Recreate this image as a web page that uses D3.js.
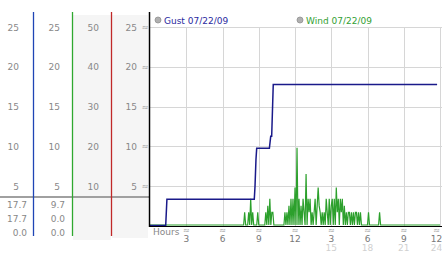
<!DOCTYPE html>
<html><head><meta charset="utf-8">
<script src="https://cdn.jsdelivr.net/npm/d3@7"></script>
<style>html,body{margin:0;padding:0;background:#fff}svg{display:block}text{font-family:"DejaVu Sans",Verdana,sans-serif}</style>
</head><body>
<script>
// ---- data ----
const legendLabels = ["Gust 07/22/09", "Wind 07/22/09"];
const yTicks = [5, 10, 15, 20, 25];
const yTicksDouble = [10, 20, 30, 40, 50];
const xTicks = [3, 6, 9, 12, 15, 18, 21, 24];
const xTickLabels = ["3", "6", "9", "12", "3", "6", "9", "12"];
const xTickLabels24 = ["", "", "", "", "15", "18", "21", "24"];
const gustStats = ["17.7", "17.7", "0.0"];
const windStats = ["9.7", "0.0", "0.0"];
// gust (hours, value)
const gustHours  = [0, 1.30, 1.40, 8.63, 8.69, 8.77, 8.83, 9.88, 9.99, 10.07, 10.15, 10.20, 23.76];
const gustValues = [0, 0,    3.3,  3.3,  4.9,  8.3,  9.7,  9.7,  11.2, 11.2,  15.2,  17.7,  17.7];
// wind: 5-minute readings from 07:40, zero before and after
const windStartHour = 7 + 40 / 60;
const windStepHours = 5 / 60;
const windValues = [
 0,0,1.6,0,0,0,1.6,0,3.3,0,
 1.6,0,0,0,0,1.6,0,0,0,0,
 0,0,0,1.6,0,2.4,0,3.3,0,1.6,
 1.6,0,0,0,0,0,0,0,0,0,
 0,0,1.6,0,1.6,0,2.4,0,3.3,0,
 3.3,0,4.7,0,9.7,0,3.3,0,2.4,0,
 3.3,1.6,0,6.4,0,3.3,1.6,3.3,0,1.6,
 0,1.6,3.3,0,2.4,4.7,2.4,1.6,0,1.6,
 0,1.6,0,3.3,1.6,0,3.3,0,2.4,3.3,
 0,3.3,0,4.7,1.6,3.3,0,3.3,1.6,3.3,
 0,2.4,0,1.6,0,1.6,1.6,0,1.6,0,
 1.6,0,1.6,1.6,0,1.6,0,1.6,0,0,
 0,0,0,0,0,1.6,0,0,0,0,
 0,0,0,0,0,0,1.6,0
];
const windEndHour = 24;

// ---- drawing ----
const W = 442, H = 253;
const svg = d3.select("body").append("svg").attr("width", W).attr("height", H);
const x = d3.scaleLinear().domain([0, 24]).range([150, 440]);
const y = d3.scaleLinear().domain([0, 25]).range([226, 27]);
const yD = d3.scaleLinear().domain([0, 50]).range([226, 27]);
const xl = d => Math.min(x(d), 436.5);

const blue = "#1a1a8a", green = "#2ca02c";

// left panel backgrounds
svg.append("rect").attr("x", 73).attr("y", 15).attr("width", 38).attr("height", 225).attr("fill", "#f5f5f5");
svg.append("rect").attr("x", 112).attr("y", 15).attr("width", 36).attr("height", 223).attr("fill", "#f5f5f5");

// left panel labels
const colDefs = [
  {x: 19, ticks: yTicks, s: y},
  {x: 60, ticks: yTicks, s: y},
  {x: 99, ticks: yTicksDouble, s: yD},
  {x: 137, ticks: yTicks, s: y}
];
colDefs.forEach(c => {
  svg.append("g").selectAll("text").data(c.ticks).join("text")
    .attr("x", c.x).attr("y", d => c.s(d) + 3.5)
    .attr("text-anchor", "end").attr("font-size", 9).attr("fill", "#888")
    .text(d => d);
});
// separator
svg.append("line").attr("x1", 0).attr("x2", 149).attr("y1", 197).attr("y2", 197)
  .attr("stroke", "#a0a0a0").attr("stroke-width", 2);
// stats
const statY = [208, 222, 236];
svg.append("g").selectAll("text").data(gustStats).join("text")
  .attr("x", 27).attr("y", (d, i) => statY[i]).attr("text-anchor", "end")
  .attr("font-size", 9).attr("fill", "#888").text(d => d);
svg.append("g").selectAll("text").data(windStats).join("text")
  .attr("x", 65).attr("y", (d, i) => statY[i]).attr("text-anchor", "end")
  .attr("font-size", 9).attr("fill", "#888").text(d => d);
// colored vertical lines
[[33.5, "#1f45b5"], [72.5, "#2fa82f"], [111.5, "#c02828"]].forEach(([lx, col]) => {
  svg.append("line").attr("x1", lx).attr("x2", lx).attr("y1", 12).attr("y2", 236)
    .attr("stroke", col).attr("stroke-width", 1.3);
});

// plot grid
const grid = svg.append("g");
grid.selectAll("line.h").data(yTicks).join("line").attr("class", "h")
  .attr("x1", 149).attr("x2", 442).attr("y1", d => Math.round(y(d)) + 0.5).attr("y2", d => Math.round(y(d)) + 0.5)
  .attr("stroke", "#d6d6d6");
grid.selectAll("line.v").data(xTicks).join("line").attr("class", "v")
  .attr("x1", d => Math.round(x(d)) + 0.5).attr("x2", d => Math.round(x(d)) + 0.5)
  .attr("y1", 27).attr("y2", 226).attr("stroke", "#d6d6d6");

// tick markers
svg.append("g").selectAll("text").data(yTicks).join("text")
  .attr("x", 145).attr("y", d => y(d) + 3).attr("text-anchor", "middle")
  .attr("font-size", 8).attr("fill", "#999").text("≈");
svg.append("g").selectAll("text").data(xTicks).join("text")
  .attr("x", d => xl(d)).attr("y", 233).attr("text-anchor", "middle")
  .attr("font-size", 8).attr("fill", "#999").text("≈");

// data lines
const windPts = [[0, 0], [windStartHour - windStepHours, 0]]
  .concat(windValues.map((v, i) => [windStartHour + i * windStepHours, v]))
  .concat([[windEndHour, 0]]);
const line = d3.line().x(d => x(d[0])).y(d => y(d[1]));
svg.append("path").datum(windPts).attr("d", line).attr("fill", "none")
  .attr("stroke", green).attr("stroke-width", 1.2).attr("transform", "translate(0,-1)");
const gustPts = gustHours.map((h, i) => [h, gustValues[i]]);
svg.append("path").datum(gustPts).attr("d", line).attr("fill", "none")
  .attr("stroke", blue).attr("stroke-width", 1.5).attr("transform", "translate(0,-0.5)");

// axes lines
svg.append("line").attr("x1", 149.5).attr("x2", 149.5).attr("y1", 12).attr("y2", 227)
  .attr("stroke", "#000").attr("stroke-width", 1.5);
svg.append("line").attr("x1", 149).attr("x2", 442).attr("y1", 226.5).attr("y2", 226.5)
  .attr("stroke", "#000").attr("stroke-width", 1.2);

// x labels
svg.append("text").attr("x", 153).attr("y", 235).attr("font-size", 9).attr("fill", "#888").text("Hours");
svg.append("g").selectAll("text").data(xTicks).join("text")
  .attr("x", d => xl(d)).attr("y", 242).attr("text-anchor", "middle")
  .attr("font-size", 9).attr("fill", "#777").text((d, i) => xTickLabels[i]);
svg.append("g").selectAll("text").data(xTicks).join("text")
  .attr("x", d => xl(d)).attr("y", 251).attr("text-anchor", "middle")
  .attr("font-size", 9).attr("fill", "#d0d0d0").text((d, i) => xTickLabels24[i]);

// legend
const legX = [158, 300];
const legCol = ["#2a2aa0", "#33a033"];
legendLabels.forEach((t, i) => {
  svg.append("circle").attr("cx", legX[i]).attr("cy", 20).attr("r", 3)
    .attr("fill", "#b0b0b0").attr("stroke", "#909090").attr("stroke-width", 0.8);
  svg.append("text").attr("x", legX[i] + 6).attr("y", 23.5).attr("font-size", 9)
    .attr("fill", legCol[i]).text(t);
});
</script>
</body></html>
